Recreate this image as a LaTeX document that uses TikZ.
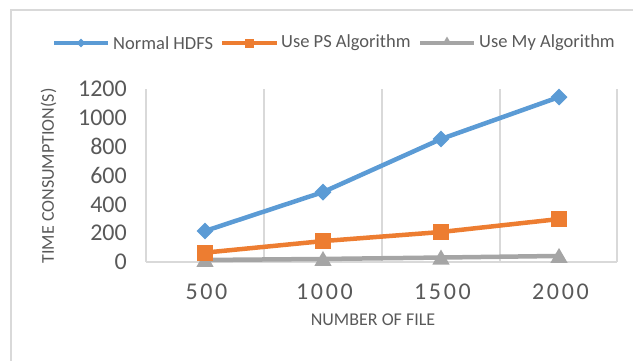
\documentclass[tikz,border=0pt]{standalone}
\usepackage{fontspec}
\setmainfont{Carlito}
\newfontfamily\tickfont[LetterSpace=11]{Carlito}
\usetikzlibrary{shapes.geometric}
\definecolor{sblue}{HTML}{5B9BD5}
\definecolor{sorange}{HTML}{ED7D31}
\definecolor{sgray}{HTML}{A5A5A5}
\definecolor{txt}{HTML}{595959}
\definecolor{grid}{HTML}{D9D9D9}
\tikzset{
  gridline/.style={draw=grid, line width=1.2pt},
  serblue/.style={draw=sblue, line width=4.5pt},
  serorange/.style={draw=sorange, line width=4.5pt},
  sergray/.style={draw=sgray, line width=4.5pt},
  mkdiamond/.style={diamond, fill=sblue, inner sep=0pt, minimum width=17pt, minimum height=17pt},
  mksquare/.style={rectangle, fill=sorange, inner sep=0pt, minimum size=16pt},
  mktri/.style={regular polygon, regular polygon sides=3, fill=sgray, inner sep=0pt, minimum size=20pt},
  lgdiamond/.style={diamond, fill=sblue, inner sep=0pt, minimum width=9pt, minimum height=9pt},
  lgsquare/.style={rectangle, fill=sorange, inner sep=0pt, minimum size=9pt},
  lgtri/.style={regular polygon, regular polygon sides=3, fill=sgray, inner sep=0pt, minimum size=11pt},
  ytick/.style={text=txt, font=\fontsize{24}{26}\selectfont, anchor=east, inner sep=0pt},
  xtick/.style={text=txt, font=\tickfont\fontsize{24}{26}\selectfont, anchor=center, inner sep=0pt},
  axtitle/.style={text=txt, font=\fontsize{18}{20}\selectfont, inner sep=0pt},
  legtext/.style={text=txt, font=\fontsize{18.5}{20}\selectfont, anchor=west, inner sep=0pt},
}
\begin{document}
\begin{tikzpicture}[x=1pt,y=-1pt]
\useasboundingbox (0,0) rectangle (633,360);
% outer border
\coordinate (bl) at (11,362);
\coordinate (tl) at (11,10);
\coordinate (tr) at (635,10);
\draw[gridline, line width=1.6pt] (bl) -- (tl) -- (tr);
% gridlines
\foreach \gx [count=\i] in {146,264,382,500,617} {
  \coordinate (gt\i) at (\gx,89);
  \coordinate (gb\i) at (\gx,262);
  \draw[gridline] (gt\i) -- (gb\i);
}
\draw[gridline] (gb1) -- (gb5);
% y ticks
\foreach \v [count=\i] in {0,200,400,600,800,1000,1200} {
  \node[ytick] (yt\i) at (127,{262-\v*0.14417}) {\v};
}
% x ticks
\foreach \c/\lab [count=\i] in {205/500,323/1000,441/1500,559/2000} {
  \node[xtick] (xt\i) at (\c+1.5,292) {\lab};
}
% axis titles
\node[axtitle, rotate=90] (ytitle) at (48.5,176) {TIME CONSUMPTION(S)};
\node[axtitle] (xtitle) at (373,320) {NUMBER OF FILE};
% data coordinates
\foreach \c/\a/\b/\d [count=\i] in {205/215/65/14,323/485/145/21,441/853/208/31,559/1144/298/42} {
  \coordinate (h\i) at (\c,{262-\a*0.14417});
  \coordinate (p\i) at (\c,{262-\b*0.14417});
  \coordinate (m\i) at (\c,{262-\d*0.14417});
}
% series
\draw[sergray] (m1) -- (m2) -- (m3) -- (m4);
\foreach \i in {1,...,4} \node[mktri] (mm\i) at ([yshift=-2pt]m\i) {};
\draw[serorange] (p1) -- (p2) -- (p3) -- (p4);
\foreach \i in {1,...,4} \node[mksquare] (pm\i) at (p\i) {};
\draw[serblue] (h1) -- (h2) -- (h3) -- (h4);
\foreach \i in {1,...,4} \node[mkdiamond] (hm\i) at (h\i) {};
% legend
\coordinate (la1) at (54,43); \coordinate (lb1) at (108,43);
\coordinate (la2) at (222,43); \coordinate (lb2) at (277,43);
\coordinate (la3) at (420,43); \coordinate (lb3) at (474,43);
\draw[draw=sblue, line width=4pt] (la1) -- (lb1);
\node[lgdiamond] (lm1) at (81,43) {};
\node[legtext] (lt1) at (113,43) {Normal HDFS};
\draw[draw=sorange, line width=4pt] (la2) -- (lb2);
\node[lgsquare] (lm2) at (249.5,43) {};
\node[legtext] (lt2) at (281,43) {Use PS Algorithm};
\draw[draw=sgray, line width=4pt] (la3) -- (lb3);
\node[lgtri] (lm3) at (447,42) {};
\node[legtext] (lt3) at (479,43) {Use My Algorithm};
\end{tikzpicture}
\end{document}
